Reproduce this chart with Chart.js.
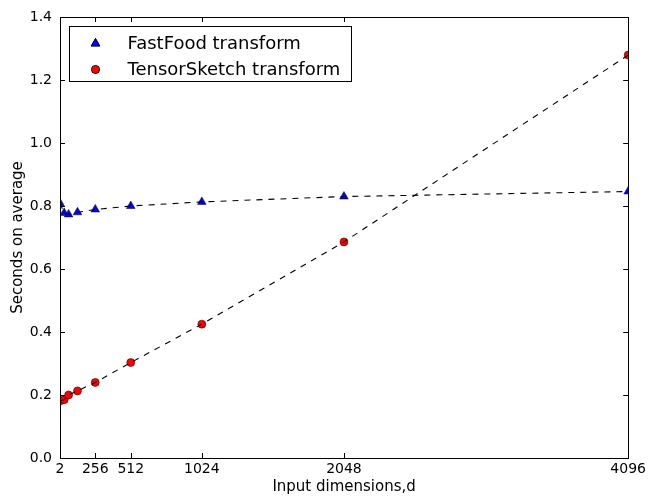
<!DOCTYPE html>
<html>
<head>
<meta charset="utf-8">
<script src="https://cdn.jsdelivr.net/npm/chart.js@4"></script>
<style>
  html, body { margin: 0; padding: 0; background: #fff; }
  #wrap { width: 649px; height: 496px; }
</style>
</head>
<body>
<div id="wrap"><canvas id="chart" width="649" height="496"></canvas></div>
<script>
// input dimension d and average seconds per transform
const dims = [2, 32, 64, 128, 256, 512, 1024, 2048, 4096];
const fastFood = [0.809, 0.778, 0.773, 0.780, 0.789, 0.800, 0.813, 0.830, 0.846];
const tensorSketch = [0.181, 0.185, 0.200, 0.213, 0.240, 0.303, 0.425, 0.686, 1.279];
const seriesNames = ['FastFood transform', 'TensorSketch transform'];
const xTicks = [2, 256, 512, 1024, 2048, 4096];
const yTicks = [0, 0.2, 0.4, 0.6, 0.8, 1.0, 1.2, 1.4];

const FONT = 'DejaVu Sans';
const pts = ys => dims.map((d, i) => ({ x: d, y: ys[i] }));

// matplotlib style frame with inward ticks on all four sides
const framePlugin = {
  id: 'frame',
  afterDatasetsDraw(chart) {
    const { ctx, chartArea: a, scales } = chart;
    ctx.save();
    ctx.strokeStyle = '#000';
    ctx.lineWidth = 1;
    ctx.strokeRect(Math.round(a.left) + 0.5, Math.round(a.top) + 0.5,
      Math.round(a.right - a.left), Math.round(a.bottom - a.top));
    const tl = 5;
    ctx.beginPath();
    xTicks.forEach(v => {
      const x = Math.round(scales.x.getPixelForValue(v)) + 0.5;
      ctx.moveTo(x, a.bottom); ctx.lineTo(x, a.bottom - tl);
      ctx.moveTo(x, a.top); ctx.lineTo(x, a.top + tl);
    });
    yTicks.forEach(v => {
      const y = Math.round(scales.y.getPixelForValue(v)) + 0.5;
      ctx.moveTo(a.left, y); ctx.lineTo(a.left + tl, y);
      ctx.moveTo(a.right, y); ctx.lineTo(a.right - tl, y);
    });
    ctx.stroke();
    ctx.restore();
  },
  afterDraw(chart) {
    // legend box in the upper left of the plot
    const { ctx, chartArea: a } = chart;
    const bx = Math.round(a.left) + 9.5, by = Math.round(a.top) + 9.5;
    ctx.save();
    ctx.fillStyle = '#fff';
    ctx.fillRect(bx, by, 282, 55);
    ctx.strokeStyle = '#000';
    ctx.lineWidth = 1;
    ctx.strokeRect(bx, by, 282, 55);
    const styles = chart.data.datasets.slice(2);
    styles.forEach((ds, i) => {
      const cy = by + 17 + i * 26;
      Chart.helpers.drawPoint(ctx, {
        pointStyle: ds.pointStyle, radius: ds.pointRadius, borderWidth: ds.borderWidth,
      }, bx + 26, cy);
      ctx.fillStyle = ds.backgroundColor;
      ctx.strokeStyle = ds.borderColor;
      ctx.lineWidth = ds.borderWidth;
      ctx.fill();
      ctx.stroke();
      ctx.fillStyle = '#000';
      ctx.font = '18px "' + FONT + '"';
      ctx.textBaseline = 'middle';
      ctx.fillText(ds.label, bx + 58, cy + 1);
    });
    ctx.restore();
  },
};

new Chart(document.getElementById('chart'), {
  type: 'scatter',
  data: {
    datasets: [
      { label: 'ff-line', data: pts(fastFood), showLine: true, borderColor: '#000', borderWidth: 1.1,
        borderDash: [6, 6], pointRadius: 0, tension: 0 },
      { label: 'ts-line', data: pts(tensorSketch), showLine: true, borderColor: '#000', borderWidth: 1.1,
        borderDash: [6, 6], pointRadius: 0, tension: 0 },
      { label: seriesNames[0], data: pts(fastFood), pointStyle: 'triangle', pointRadius: 5,
        backgroundColor: '#0000ff', borderColor: '#000', borderWidth: 0.5 },
      { label: seriesNames[1], data: pts(tensorSketch), pointStyle: 'circle', pointRadius: 4,
        backgroundColor: '#ff0000', borderColor: '#000', borderWidth: 0.5 },
    ],
  },
  options: {
    responsive: false,
    animation: false,
    layout: { padding: { top: 17, right: 20, left: 0, bottom: 0 } },
    plugins: { legend: { display: false }, tooltip: { enabled: false } },
    scales: {
      x: {
        type: 'linear', min: 2, max: 4096,
        grid: { display: false, drawTicks: false },
        border: { display: false },
        afterBuildTicks: s => { s.ticks = xTicks.map(v => ({ value: v })); },
        afterFit: s => { s.height = 38; },
        ticks: { color: '#000', font: { family: FONT, size: 14 }, padding: 3, maxRotation: 0, autoSkip: false,
          callback: v => String(v) },
        title: { display: true, text: 'Input dimensions,d', color: '#000',
          font: { family: FONT, size: 15 }, padding: { top: 0, bottom: 0 } },
      },
      y: {
        type: 'linear', min: 0, max: 1.4,
        grid: { display: false, drawTicks: false },
        border: { display: false },
        afterBuildTicks: s => { s.ticks = yTicks.map(v => ({ value: v })); },
        afterFit: s => { s.width = 60; },
        ticks: { color: '#000', font: { family: FONT, size: 14 }, padding: 8,
          callback: v => v.toFixed(1) },
        title: { display: true, text: 'Seconds on average', color: '#000',
          font: { family: FONT, size: 15 }, padding: { top: 9, bottom: 0 } },
      },
    },
  },
  plugins: [framePlugin],
});
</script>
</body>
</html>
